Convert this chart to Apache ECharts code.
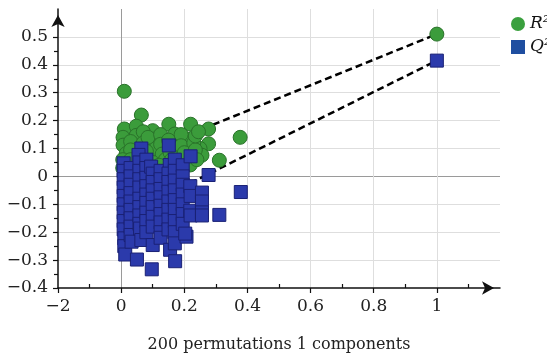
<!DOCTYPE html>
<html>
<head>
<meta charset="utf-8">
<script src="https://cdn.jsdelivr.net/npm/echarts@6/dist/echarts.min.js"></script>
<style>
html,body{margin:0;padding:0;background:#fff;}
#chart{width:547px;height:358px;}
</style>
</head>
<body>
<div id="chart"></div>
<script>
// ---- data ----
const seriesNames = ['R²', 'Q²'];
const xAxisTitle = '200 permutations 1 components';
const xMajorTicks = [-0.2, 0, 0.2, 0.4, 0.6, 0.8, 1];
const xMinorTicks = [-0.1, 0.1, 0.3, 0.5, 0.7, 0.9, 1.1];
const yMajorTicks = [-0.4, -0.3, -0.2, -0.1, 0, 0.1, 0.2, 0.3, 0.4, 0.5];

const r2Points = [
  [0.01,0.305],[0.064,0.22],[0.01,0.17],[0.048,0.18],[0.10,0.164],[0.151,0.187],
  [0.22,0.187],[0.277,0.17],[0.006,0.14],[0.006,0.112],[0.048,0.147],[0.107,0.134],
  [0.17,0.152],[0.207,0.134],[0.016,0.082],[0.107,0.10],[0.174,0.105],[0.377,0.14],
  [0.277,0.117],[0.25,0.1],[0.256,0.076],[0.311,0.058],[0.219,0.041],[0.197,0.07],
  [0.03,0.125],[0.03,0.095],[0.07,0.16],[0.07,0.12],[0.08,0.09],[0.085,0.14],
  [0.125,0.15],[0.125,0.115],[0.13,0.08],[0.14,0.06],[0.15,0.13],[0.155,0.085],
  [0.19,0.15],[0.19,0.11],[0.2,0.085],[0.23,0.12],[0.235,0.095],[0.24,0.06],
  [0.005,0.06],[0.005,0.03],[0.03,0.06],[0.06,0.05],[0.1,0.05],[0.12,0.04],
  [0.18,0.04],[0.16,0.06],[0.235,0.145],[0.245,0.16],[1,0.51]
];

const q2Points = [
  [0.008,0.047],[0.008,0.02],[0.008,-0.01],[0.008,-0.04],[0.008,-0.07],[0.008,-0.1],
  [0.008,-0.13],[0.008,-0.16],[0.008,-0.19],[0.01,-0.222],[0.01,-0.25],[0.013,-0.28],
  [0.03,0.03],[0.03,0.0],[0.03,-0.03],[0.03,-0.06],[0.03,-0.09],[0.03,-0.12],
  [0.03,-0.15],[0.03,-0.18],[0.03,-0.21],[0.033,-0.234],
  [0.064,0.1],[0.055,0.077],[0.058,0.05],[0.058,0.02],[0.058,-0.01],[0.058,-0.04],
  [0.058,-0.08],[0.058,-0.11],[0.058,-0.14],[0.058,-0.17],[0.06,-0.187],[0.064,-0.228],
  [0.05,-0.298],
  [0.08,0.06],[0.08,0.03],[0.08,-0.005],[0.08,-0.035],[0.08,-0.065],[0.08,-0.095],
  [0.08,-0.13],[0.08,-0.16],[0.08,-0.2],
  [0.095,0.035],[0.1,0.01],[0.1,-0.02],[0.1,-0.05],[0.1,-0.08],[0.1,-0.11],
  [0.1,-0.145],[0.1,-0.18],[0.1,-0.246],[0.097,-0.333],
  [0.125,0.02],[0.125,-0.01],[0.125,-0.045],[0.125,-0.075],[0.125,-0.105],[0.125,-0.135],
  [0.125,-0.165],[0.125,-0.2],[0.125,-0.22],
  [0.151,0.111],[0.154,0.041],[0.15,0.01],[0.15,-0.02],[0.15,-0.055],[0.15,-0.09],
  [0.15,-0.12],[0.15,-0.155],[0.15,-0.19],[0.155,-0.263],
  [0.17,0.06],[0.17,0.02],[0.17,-0.015],[0.17,-0.05],[0.17,-0.085],[0.17,-0.12],
  [0.17,-0.16],[0.17,-0.2],[0.17,-0.24],[0.171,-0.304],
  [0.195,0.04],[0.195,0.0],[0.195,-0.03],[0.195,-0.065],[0.195,-0.1],[0.195,-0.135],
  [0.195,-0.17],[0.207,-0.216],
  [0.22,0.072],[0.219,-0.035],[0.22,-0.07],[0.219,-0.123],[0.22,-0.14],[0.203,-0.205],
  [0.256,-0.058],[0.256,-0.09],[0.256,-0.129],[0.256,-0.14],
  [0.277,0.005],[0.311,-0.138],[0.379,-0.056],
  [1,0.415]
];

const r2Line = [[0, 0.052], [1, 0.51]];
const q2Line = [[0, -0.147], [1, 0.415]];

// ---- chart ----
const fontFamily = 'DejaVu Serif';
const minusFix = v => String(v).replace('-', '\u2212');

const chart = echarts.init(document.getElementById('chart'), null, {renderer: 'canvas'});
const option = {
  backgroundColor: '#ffffff',
  animation: false,
  grid: {left: 58, right: 47, top: 9, bottom: 64, containLabel: false},
  legend: {
    orient: 'vertical',
    left: 511,
    top: 14,
    itemWidth: 14,
    itemHeight: 14,
    itemGap: 3,
    padding: 0,
    textStyle: {fontFamily: fontFamily, fontStyle: 'italic', fontSize: 17, color: '#111', lineHeight: 20},
    data: [
      {name: seriesNames[0], icon: 'circle', itemStyle: {color: '#3aa03e', borderWidth: 0}},
      {name: seriesNames[1], icon: 'rect', itemStyle: {color: '#1f4ea0', borderWidth: 0}}
    ]
  },
  xAxis: [
    {
      type: 'value',
      position: 'bottom',
      min: -0.2, max: 1.2, interval: 0.2,
      name: xAxisTitle,
      nameLocation: 'middle',
      nameGap: 49,
      nameTextStyle: {fontFamily: fontFamily, fontSize: 16, color: '#222'},
      axisLine: {show: true, onZero: false, lineStyle: {color: '#111', width: 1.5},
        symbol: ['none', 'arrow'], symbolSize: [10, 12], symbolOffset: [0, -6]},
      axisTick: {show: true, inside: false, length: 5, lineStyle: {color: '#111', width: 1.2},
        customValues: xMajorTicks},
      axisLabel: {show: true, margin: 10, fontFamily: fontFamily, fontSize: 17, color: '#222',
        customValues: xMajorTicks,
        formatter: v => (Math.abs(v + 0.2) < 1e-9 ? '\u22122' : minusFix(+v.toFixed(1)))},
      splitLine: {show: true, lineStyle: {width: 1,
        color: ['rgba(0,0,0,0)', '#9a9a9a', '#dedede', '#dedede', '#dedede', '#dedede', '#dedede', 'rgba(0,0,0,0)']}}
    },
    {
      type: 'value',
      position: 'bottom',
      min: -0.2, max: 1.2, interval: 0.1,
      axisLine: {show: false, onZero: false},
      axisTick: {show: true, inside: true, length: 4, lineStyle: {color: '#111', width: 1.2},
        customValues: xMinorTicks},
      axisLabel: {show: false},
      splitLine: {show: false}
    }
  ],
  yAxis: {
    type: 'value',
    min: -0.4, max: 0.6, interval: 0.1,
    axisLine: {show: true, onZero: false, lineStyle: {color: '#111', width: 1.5},
      symbol: ['none', 'arrow'], symbolSize: [10, 12], symbolOffset: [0, -6]},
    axisTick: {show: true, length: 5, lineStyle: {color: '#111', width: 1.2},
      customValues: yMajorTicks},
    minorTick: {show: true, splitNumber: 2, length: 4, lineStyle: {color: '#111', width: 1.2}},
    axisLabel: {show: true, margin: 10, fontFamily: fontFamily, fontSize: 17, color: '#222',
      customValues: yMajorTicks,
      formatter: v => minusFix(+v.toFixed(1))},
    splitLine: {show: true, lineStyle: {width: 1,
      color: ['rgba(0,0,0,0)', '#dedede', '#dedede', '#dedede', '#9a9a9a', '#dedede', '#dedede', '#dedede', '#dedede', '#dedede', 'rgba(0,0,0,0)']}}
  },
  series: [
    {
      name: 'r2line', type: 'line', data: r2Line, xAxisIndex: 0, symbol: 'none', z: 1,
      lineStyle: {color: '#000', width: 2.5, type: [7, 4]}, silent: true
    },
    {
      name: 'q2line', type: 'line', data: q2Line, xAxisIndex: 0, symbol: 'none', z: 1,
      lineStyle: {color: '#000', width: 2.5, type: [7, 4]}, silent: true
    },
    {
      name: seriesNames[0], type: 'scatter', data: r2Points, xAxisIndex: 0, z: 2,
      symbol: 'circle', symbolSize: 14,
      itemStyle: {color: '#3b9c3b', borderColor: '#2a722a', borderWidth: 1, opacity: 1}
    },
    {
      name: seriesNames[1], type: 'scatter', data: q2Points, xAxisIndex: 0, z: 3,
      symbol: 'rect', symbolSize: 13,
      itemStyle: {color: '#2b3aab', borderColor: '#1a2175', borderWidth: 1, opacity: 1}
    }
  ]
};
chart.setOption(option);
</script>
</body>
</html>
